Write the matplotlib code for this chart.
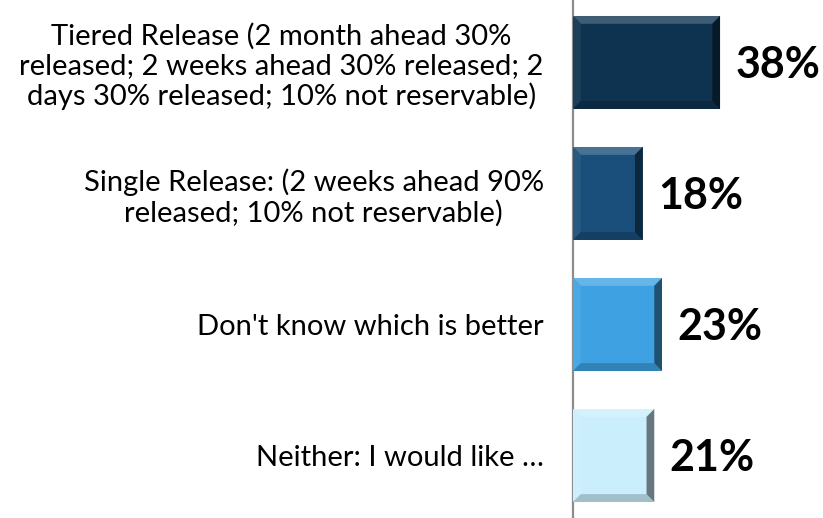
import numpy as np
import matplotlib.pyplot as plt
from matplotlib.patches import Polygon
from matplotlib.colors import to_rgb

# chart data
categories = [
    'Tiered Release (2 month ahead 30%\nreleased; 2 weeks ahead 30% released; 2\ndays 30% released; 10% not reservable)',
    'Single Release: (2 weeks ahead 90%\nreleased; 10% not reservable)',
    "Don't know which is better",
    'Neither: I would like \u2026',
]
values = [38, 18, 23, 21]
colors = ['#0e3350', '#194f7a', '#3ea2e2', '#cbeefc']


def mix(c, other, t):
    c = np.array(to_rgb(c))
    return tuple(c * (1 - t) + np.array(other) * t)


fig = plt.figure(figsize=(8.23, 5.18), dpi=100)
ax = fig.add_axes([573 / 823, 0, 250 / 823, 1])

y = np.arange(len(values))
h = 0.71
ax.barh(y, values, height=h, color=colors, edgecolor='none', zorder=2)

# simple bevel on every bar
bx, by = 2.0, 0.06
for yi, v, c in zip(y, values, colors):
    y0, y1 = yi - h / 2, yi + h / 2
    top = [(0, y0), (v, y0), (v - bx, y0 + by), (bx, y0 + by)]
    bot = [(0, y1), (v, y1), (v - bx, y1 - by), (bx, y1 - by)]
    left = [(0, y0), (bx, y0 + by), (bx, y1 - by), (0, y1)]
    right = [(v, y0), (v - bx, y0 + by), (v - bx, y1 - by), (v, y1)]
    ax.add_patch(Polygon(top, closed=True, color=mix(c, (1, 1, 1), 0.2), lw=0, zorder=3))
    ax.add_patch(Polygon(left, closed=True, color=mix(c, (1, 1, 1), 0.06), lw=0, zorder=3))
    ax.add_patch(Polygon(bot, closed=True, color=mix(c, (0, 0, 0), 0.2), lw=0, zorder=3))
    ax.add_patch(Polygon(right, closed=True, color=mix(c, (0, 0, 0), 0.5), lw=0, zorder=3))
    ax.text(v + 4.0, yi + 0.02, f'{v}%', va='center', ha='left', fontsize=31,
            fontweight='bold', family='Lato', color='black')

ax.set_xlim(0, 250 / 3.87)
ax.set_ylim(3.477, -0.477)
ax.set_yticks(y)
ax.set_yticklabels(categories, fontsize=21, family='Lato', multialignment='center',
                   linespacing=1.15)
ax.tick_params(axis='y', length=0, pad=21)
ax.set_xticks([])
for s in ['top', 'right', 'bottom']:
    ax.spines[s].set_visible(False)
ax.spines['left'].set_color('#8c8c8c')
ax.spines['left'].set_linewidth(1.6)

fig.savefig('out.png', dpi=100)
